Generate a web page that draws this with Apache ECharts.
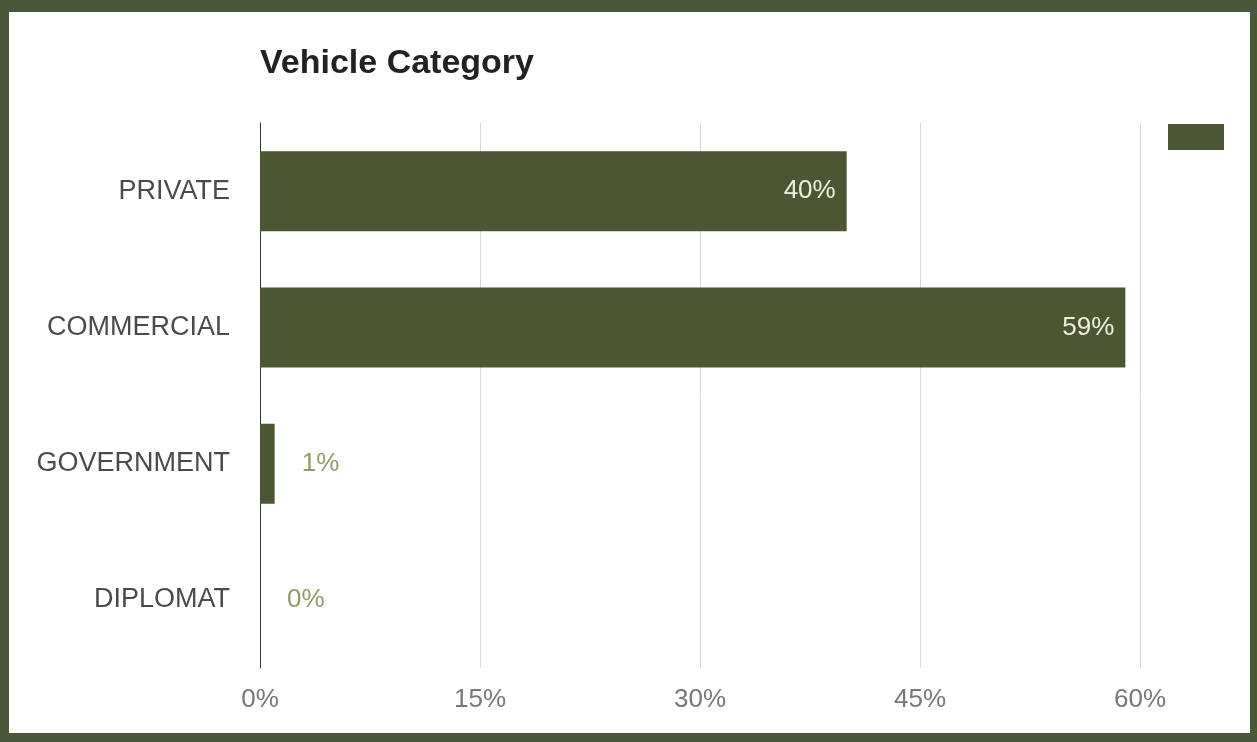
<!DOCTYPE html>
<html>
<head>
<meta charset="utf-8">
<script src="https://cdn.jsdelivr.net/npm/echarts@6/dist/echarts.min.js"></script>
<style>
  html, body { margin: 0; padding: 0; width: 1257px; height: 742px; background: #4a5839; overflow: hidden; }
  #chart { position: absolute; left: 9px; top: 12px; width: 1241px; height: 721px; background: #ffffff; }
</style>
</head>
<body>
<div id="chart"></div>
<script>
const categories = ['PRIVATE', 'COMMERCIAL', 'GOVERNMENT', 'DIPLOMAT'];
const values = [40, 59, 1, 0];
const xTicks = [0, 15, 30, 45, 60];

const barColor = '#4b5733';
const chart = echarts.init(document.getElementById('chart'));

const seriesData = values.map(v => ({
  value: v,
  label: v >= 10
    ? { position: 'insideRight', distance: 11, color: '#eef0dc' }
    : { position: 'right', distance: 27, color: '#8e9c66' }
}));

chart.setOption({
  animation: false,
  title: {
    text: 'Vehicle Category',
    left: 246,
    top: 30,
    textStyle: { fontFamily: 'Liberation Sans', fontSize: 34, fontWeight: 'bold', color: '#222222' }
  },
  legend: {
    left: 1154,
    top: 107,
    itemWidth: 56,
    itemHeight: 26,
    itemGap: 0,
    icon: 'rect',
    formatter: () => '',
    data: [{ name: 'Vehicle', itemStyle: { color: barColor } }],
    selectedMode: false
  },
  grid: { left: 251, right: 110, top: 111, bottom: 65, containLabel: false },
  xAxis: {
    type: 'value',
    min: xTicks[0],
    max: xTicks[xTicks.length - 1],
    interval: 15,
    axisLine: { show: false },
    axisTick: { show: false },
    splitLine: { show: true, lineStyle: { color: '#d9d9d9', width: 1 } },
    axisLabel: {
      formatter: '{value}%',
      fontFamily: 'Liberation Sans',
      fontSize: 26,
      color: '#777777',
      margin: 19
    }
  },
  yAxis: {
    type: 'category',
    data: categories,
    inverse: true,
    axisLine: { show: true, lineStyle: { color: '#333333', width: 1 } },
    axisTick: { show: false },
    axisLabel: {
      fontFamily: 'Liberation Sans',
      fontSize: 27,
      color: '#4a4a4a',
      margin: 30
    }
  },
  series: [{
    name: 'Vehicle',
    type: 'bar',
    data: seriesData,
    barWidth: 80,
    itemStyle: { color: barColor },
    label: {
      show: true,
      formatter: '{c}%',
      fontFamily: 'Liberation Sans',
      fontSize: 26
    }
  }]
});
</script>
</body>
</html>
